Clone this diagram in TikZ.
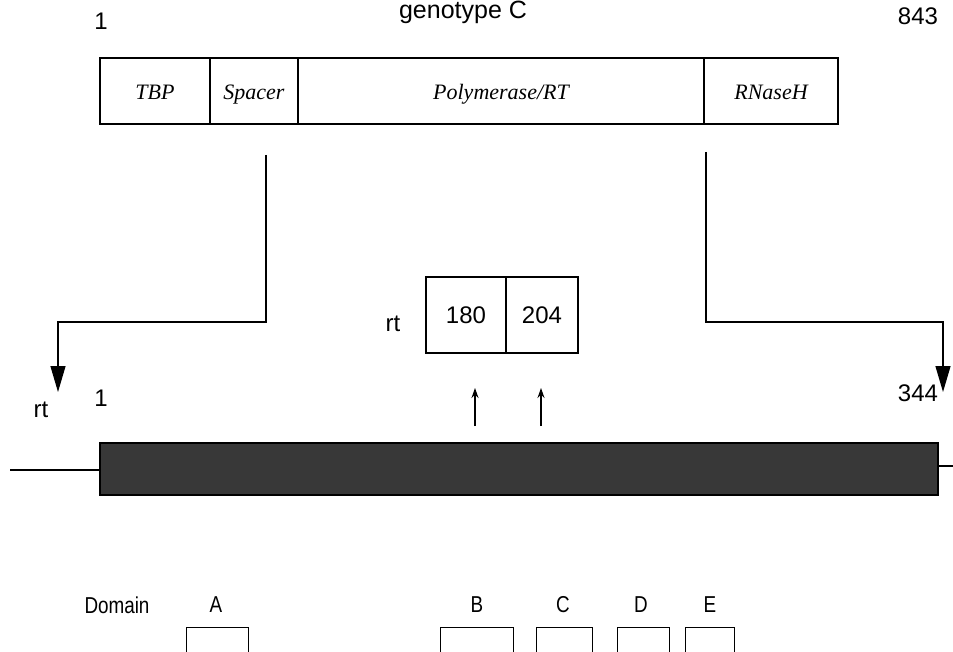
\documentclass[tikz,border=0pt]{standalone}
\usepackage{fontspec}
\setmainfont{Liberation Sans}
\newfontfamily\seriffont{Liberation Serif}
\usetikzlibrary{arrows.meta,positioning}
\newcommand{\narrowtext}[1]{\scalebox{0.82}[1]{#1}}

\begin{document}
\begin{tikzpicture}[
    x=1pt,y=-1pt,
    lbl/.style={inner sep=0pt,font=\fontsize{24}{27}\selectfont},
    dlbl/.style={inner sep=0pt,font=\fontsize{23}{26}\selectfont},
    seg/.style={draw,line width=1.3pt,minimum height=66pt,inner sep=0pt,text height=18pt,text depth=0pt,font=\seriffont\itshape\fontsize{22}{25}\selectfont},
    rtbox/.style={draw,line width=1.3pt,minimum height=76pt,inner sep=0pt,font=\fontsize{24}{27}\selectfont},
    dombox/.style={draw,line width=1pt,minimum height=30pt,inner sep=0pt},
    bigarrow/.style={-{Triangle[length=26pt,width=15pt]},line width=1.3pt},
    smallarrow/.style={-{Stealth[length=10pt,width=7pt]},line width=1.3pt}
  ]
    \clip (0,0) rectangle (953,652);
    % protein, genotype C
    \node[lbl,font=\fontsize{25}{28}\selectfont] (geno) at (463,12) {genotype C};
    \node[lbl] (first) at (101,21) {1};
    \node[lbl] (last) at (918,16) {843};
    \node[seg,minimum width=110pt] (tbp) at (155,91) {TBP};
    \node[seg,minimum width=88pt] (spacer) at (254,91) {Spacer};
    \node[seg,minimum width=406pt] (pol) at (501,91) {Polymerase/RT};
    \node[seg,minimum width=134pt] (rnase) at (771,91) {RNaseH};
    % zoom connectors
    \coordinate (lstart) at (266,155);
    \coordinate (ltip) at (58,392);
    \coordinate (rstart) at (706,152);
    \coordinate (rtip) at (943,392);
    \draw[bigarrow] (lstart) -- ++(0,167) -| (ltip);
    \draw[bigarrow] (rstart) -- ++(0,170) -| (rtip);
    % rt positions
    \node[lbl] (rtlab) at (393,324) {rt};
    \node[rtbox,minimum width=80pt] (p180) at (466,315) {180};
    \node[rtbox,minimum width=72pt] (p204) at (542,315) {204};
    \coordinate (a180) at (475,426);
    \coordinate (a204) at (541,426);
    \draw[smallarrow] (a180) -- ++(0,-38);
    \draw[smallarrow] (a204) -- ++(0,-38);
    % rt domain bar
    \node[lbl] (rtname) at (41,410) {rt};
    \node[lbl] (rtfirst) at (101,398) {1};
    \node[lbl] (rtlast) at (918,393) {344};
    \node[draw,line width=1.3pt,fill=black!78,minimum width=838pt,minimum height=52pt,inner sep=0pt] (bar) at (519,469) {};
    \coordinate (lend) at (10,470);
    \coordinate (rend) at (953,466);
    \draw[line width=1.2pt] (lend) -- (bar.west |- lend);
    \draw[line width=1.2pt] (bar.east |- rend) -- (rend);
    % domains
    \node[dlbl] (domain) at (117,605) {\narrowtext{Domain}};
    \node[dlbl] (da) at (216,605) {\narrowtext{A}};
    \node[dlbl] (db) at (477,605) {\narrowtext{B}};
    \node[dlbl] (dc) at (563,605) {\narrowtext{C}};
    \node[dlbl] (dd) at (641,605) {\narrowtext{D}};
    \node[dlbl] (de) at (710,605) {\narrowtext{E}};
    \node[dombox,minimum width=62pt] (ba) at (217,642) {};
    \node[dombox,minimum width=73pt] (bb) at (477,642) {};
    \node[dombox,minimum width=56pt] (bc) at (564,642) {};
    \node[dombox,minimum width=52pt] (bd) at (643,642) {};
    \node[dombox,minimum width=49pt] (be) at (710,642) {};
  \end{tikzpicture}
\end{document}
